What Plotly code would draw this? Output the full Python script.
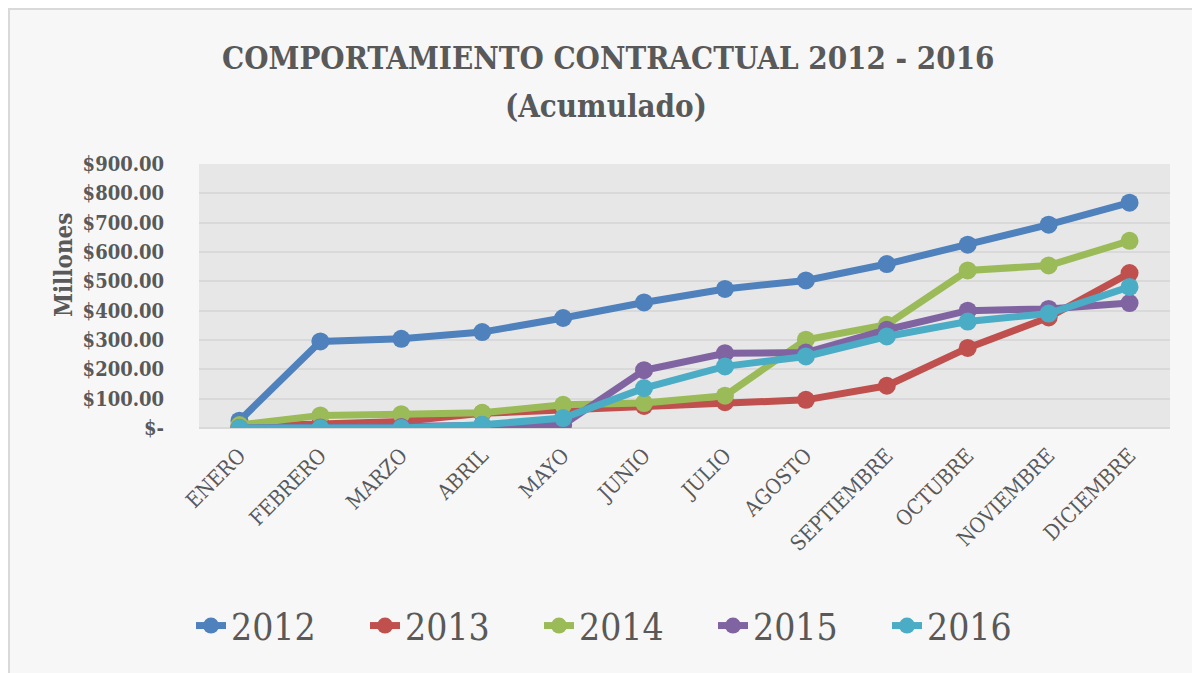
import plotly.graph_objects as go

months = ["ENERO", "FEBRERO", "MARZO", "ABRIL", "MAYO", "JUNIO", "JULIO",
          "AGOSTO", "SEPTIEMBRE", "OCTUBRE", "NOVIEMBRE", "DICIEMBRE"]

v2012 = [25, 295, 304, 327, 375, 428, 474, 503, 559, 625, 693, 768]
v2013 = [5, 15, 22, 50, 62, 75, 88, 96, 144, 273, 377, 528]
v2014 = [10, 43, 47, 52, 79, 85, 110, 301, 352, 537, 554, 638]
v2015 = [0, 2, 3, 10, 11, 197, 255, 257, 335, 400, 406, 426]
v2016 = [0, 0, 0, 11, 34, 136, 210, 244, 312, 363, 390, 481]

series_names = ["2012", "2013", "2014", "2015", "2016"]
series_vals = [v2012, v2013, v2014, v2015, v2016]
colors = ["#4f81bd", "#c0504d", "#9bbb59", "#8064a2", "#4bacc6"]

tick_vals = [0, 100, 200, 300, 400, 500, 600, 700, 800, 900]
tick_text = ["$-", "$100.00", "$200.00", "$300.00", "$400.00", "$500.00",
             "$600.00", "$700.00", "$800.00", "$900.00"]

FONT = "DejaVu Serif Condensed, Liberation Serif, serif"
GRAY = "#595959"

fig = go.Figure()
for name, vals, col in zip(series_names, series_vals, colors):
    fig.add_trace(go.Scatter(
        x=months, y=vals, name=name, mode="lines+markers",
        line=dict(color=col, width=7),
        marker=dict(color=col, size=18),
    ))

# the page body has an 8px margin: page coords = figure coords + 8
OFF = 8
FW, FH = 1192, 665
# plot area in page coords: x 199..1170, y 164..428
L, R, T, B = 199 - OFF, 1170 - OFF, 164 - OFF, 428 - OFF
W, H = R - L, B - T


def px(x):
    return (x - OFF - L) / W


def py(y):
    return (B - (y - OFF)) / H


fig.add_shape(type="rect", xref="paper", yref="paper",
              x0=px(9), x1=px(1199), y0=py(700), y1=py(9),
              fillcolor="#f7f7f7", line=dict(color="#d9d9d9", width=2),
              layer="below")
fig.add_shape(type="rect", xref="paper", yref="paper",
              x0=0, x1=1, y0=0, y1=1,
              fillcolor="#e7e7e7", line=dict(width=0),
              layer="below")

fig.add_annotation(
    text="<b>COMPORTAMIENTO CONTRACTUAL 2012 - 2016</b>",
    xref="paper", yref="paper", x=px(608), y=py(58),
    xanchor="center", yanchor="middle", showarrow=False,
    font=dict(family=FONT, size=31, color=GRAY),
)
fig.add_annotation(
    text="<b>(Acumulado)</b>",
    xref="paper", yref="paper", x=px(606), y=py(106),
    xanchor="center", yanchor="middle", showarrow=False,
    font=dict(family=FONT, size=31, color=GRAY),
)
fig.add_annotation(
    text="<b>Millones</b>", textangle=-90,
    xref="paper", yref="paper", x=px(63), y=py(265),
    xanchor="center", yanchor="middle", showarrow=False,
    font=dict(family=FONT, size=24, color=GRAY),
)

fig.update_layout(
    width=FW, height=FH,
    margin=dict(l=L, r=FW - R, t=T, b=FH - B),
    paper_bgcolor="white",
    plot_bgcolor="rgba(0,0,0,0)",
    showlegend=True,
    legend=dict(
        orientation="h", xanchor="center", yanchor="middle",
        x=px(626), y=py(626),
        font=dict(family=FONT, size=37, color=GRAY),
        bgcolor="rgba(0,0,0,0)",
        entrywidth=129, entrywidthmode="pixels",
    ),
    xaxis=dict(
        tickangle=-45,
        tickfont=dict(family=FONT, size=21, color=GRAY),
        showgrid=False, showline=False, zeroline=False,
        ticks="outside", ticklen=6, tickcolor="rgba(0,0,0,0)",
        range=[-0.5, 11.5],
    ),
    yaxis=dict(
        range=[0, 900],
        tickvals=tick_vals, ticktext=tick_text,
        tickfont=dict(family=FONT, size=20, color=GRAY, weight="bold"),
        showgrid=True, gridcolor="#d9d9d9", gridwidth=2,
        zeroline=True, zerolinecolor="#d9d9d9", zerolinewidth=2,
        showline=False,
        ticks="outside", ticklen=30, tickcolor="rgba(0,0,0,0)",
    ),
)

fig.write_html("out.html")
